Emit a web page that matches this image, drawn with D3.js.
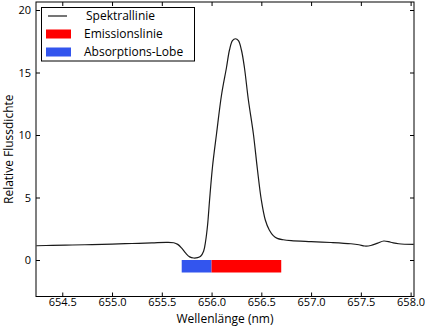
<!DOCTYPE html>
<html><head><meta charset="utf-8">
<script src="https://cdn.jsdelivr.net/npm/d3@7"></script>
<style>
html,body{margin:0;padding:0;background:#fff;}
text{font-family:"Open Sans",sans-serif;fill:#000;}
</style></head>
<body><svg id="c" width="425" height="328"></svg>
<script>
const wavelength = [654.24, 654.40, 654.60, 654.80, 655.00, 655.20, 655.40, 655.55, 655.62, 655.66, 655.70, 655.74, 655.78, 655.82, 655.86, 655.89, 655.92, 655.94, 655.96, 655.98, 656.01, 656.05, 656.10, 656.15, 656.18, 656.21, 656.24, 656.27, 656.30, 656.33, 656.37, 656.42, 656.46, 656.50, 656.54, 656.58, 656.62, 656.66, 656.72, 656.80, 657.00, 657.20, 657.40, 657.48, 657.54, 657.60, 657.67, 657.73, 657.80, 657.88, 658.03];
const flux = [1.14, 1.17, 1.20, 1.23, 1.27, 1.32, 1.37, 1.41, 1.38, 1.25, 0.95, 0.55, 0.25, 0.16, 0.19, 0.30, 0.70, 1.50, 2.80, 4.80, 7.50, 10.1, 13.2, 15.4, 16.8, 17.55, 17.7, 17.55, 16.8, 15.4, 12.8, 10.1, 7.3, 4.8, 3.2, 2.4, 1.95, 1.73, 1.62, 1.55, 1.47, 1.40, 1.30, 1.22, 1.12, 1.16, 1.35, 1.52, 1.42, 1.30, 1.25];
const bandNames = ["Absorptions-Lobe", "Emissionslinie"];
const bandStart = [655.7, 656.0];
const bandEnd = [656.0, 656.7];
const bandColors = ["#3355ee", "#ff0000"];
const xTicks = [654.5, 655.0, 655.5, 656.0, 656.5, 657.0, 657.5, 658.0];
const yTicks = [0, 5, 10, 15, 20];
const legendLabels = ["Spektrallinie", "Emissionslinie", "Absorptions-Lobe"];

const svg = d3.select("#c");
const L = 36, R = 414, T = 2, B = 296.5;
const x = d3.scaleLinear().domain([654.236, 658.034]).range([L, R]);
const y = d3.scaleLinear().domain([-2.92, 20.64]).range([B, T]);

svg.selectAll("rect.band").data(bandNames).enter().append("rect")
  .attr("x", (d,i)=>x(bandStart[i])).attr("width", (d,i)=>x(bandEnd[i])-x(bandStart[i]))
  .attr("y", y(0)).attr("height", y(-1)-y(0)).attr("fill", (d,i)=>bandColors[i]);

const pts = wavelength.map((w,i)=>[w, flux[i]]);
svg.append("path").datum(pts)
  .attr("d", d3.line().x(d=>x(d[0])).y(d=>y(d[1])).curve(d3.curveCatmullRom.alpha(0.5)))
  .attr("fill","none").attr("stroke","#1a1a1a").attr("stroke-width",1.2);

svg.append("rect").attr("x",L).attr("y",T).attr("width",R-L).attr("height",B-T)
  .attr("fill","none").attr("stroke","#000").attr("stroke-width",1);

const fmt = d3.format(".1f");
const xb = svg.append("g").attr("transform",`translate(0,${B})`)
  .call(d3.axisBottom(x).tickValues(xTicks).tickFormat(fmt).tickSizeInner(-4).tickSizeOuter(0).tickPadding(2));
const xt = svg.append("g").attr("transform",`translate(0,${T})`)
  .call(d3.axisTop(x).tickValues(xTicks).tickFormat("").tickSizeInner(-4).tickSizeOuter(0));
const yl = svg.append("g").attr("transform",`translate(${L},0)`)
  .call(d3.axisLeft(y).tickValues(yTicks).tickSizeInner(-4).tickSizeOuter(0).tickPadding(5));
const yr = svg.append("g").attr("transform",`translate(${R},0)`)
  .call(d3.axisRight(y).tickValues(yTicks).tickFormat("").tickSizeInner(-4).tickSizeOuter(0));
[xb,xt,yl,yr].forEach(g=>{g.select(".domain").remove(); g.selectAll("line").attr("stroke","#000");
  g.selectAll("text").style("font-size","11px").attr("font-family","Open Sans, sans-serif");});

svg.append("text").attr("x",(L+R)/2).attr("y",323).attr("text-anchor","middle")
  .style("font-size","12px").text("Wellenlänge (nm)");
svg.append("text").attr("transform",`translate(13,${(T+B)/2}) rotate(-90)`).attr("text-anchor","middle")
  .style("font-size","12px").text("Relative Flussdichte");

const lg = svg.append("g");
lg.append("rect").attr("x",41.5).attr("y",7.5).attr("width",153).attr("height",53.5)
  .attr("fill","#fff").attr("stroke","#000").attr("stroke-width",1);
lg.append("line").attr("x1",48).attr("x2",67).attr("y1",16).attr("y2",16).attr("stroke","#1a1a1a").attr("stroke-width",1.2);
lg.append("rect").attr("x",46).attr("y",29.5).attr("width",25).attr("height",9).attr("fill",bandColors[1]);
lg.append("rect").attr("x",46).attr("y",47.5).attr("width",25).attr("height",9).attr("fill",bandColors[0]);
const ly = [16, 34, 52], lx = [86, 84, 84];
lg.selectAll("text.lg").data(legendLabels).enter().append("text")
  .attr("x",(d,i)=>lx[i]).attr("y",(d,i)=>ly[i]).attr("dy","0.35em")
  .style("font-size","12px").text(d=>d);
</script></body></html>
